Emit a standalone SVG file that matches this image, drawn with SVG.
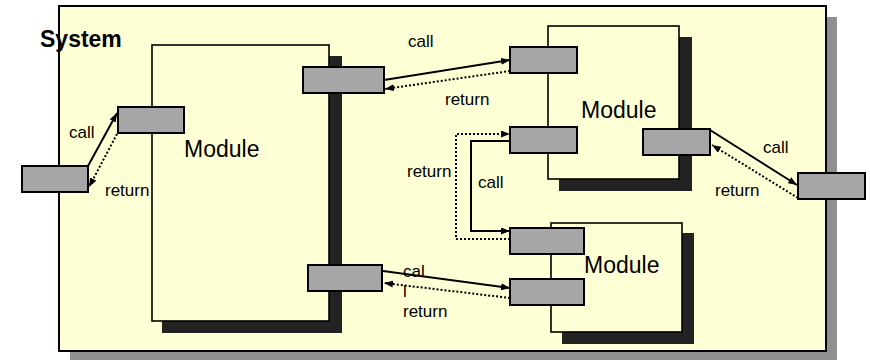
<svg xmlns="http://www.w3.org/2000/svg" width="870" height="360" viewBox="0 0 870 360">
  <defs>
    <marker id="arrow" viewBox="0 0 9 7" refX="9" refY="3.5" markerWidth="9" markerHeight="7" markerUnits="userSpaceOnUse" orient="auto">
      <path d="M0,0 L9,3.5 L0,7 z" fill="#000"/>
    </marker>
    <style>
      .box { fill: #ffffd6; stroke: #000; stroke-width: 1.6; }
      .sys { fill: #ffffd6; stroke: #000; stroke-width: 2; }
      .shadow { fill: #222; }
      .sysshadow { fill: #909090; }
      .port { fill: #a6a6a6; stroke: #000; stroke-width: 2; }
      .call { fill: none; stroke: #000; stroke-width: 2; marker-end: url(#arrow); }
      .ret { fill: none; stroke: #000; stroke-width: 2; stroke-dasharray: 2 2; marker-end: url(#arrow); }
      text { font-family: "Liberation Sans", Arial, sans-serif; fill: #000; }
      .lbl { font-size: 17px; }
      .title { font-size: 23px; }
      .sysname { font-size: 23px; font-weight: bold; }
    </style>
  </defs>

  <!-- enclosing system -->
  <g id="system">
    <rect class="sysshadow" x="70" y="17" width="767" height="345"/>
    <rect class="sys" x="59" y="6" width="767" height="345"/>
    <text class="sysname" x="40" y="47">System</text>
  </g>

  <!-- modules -->
  <g id="module-main">
    <rect class="shadow" x="162" y="56" width="180" height="277"/>
    <rect class="box" x="152" y="45" width="177" height="276"/>
    <text class="title" x="184" y="157">Module</text>
  </g>
  <g id="module-upper">
    <rect class="shadow" x="559" y="37" width="133" height="154"/>
    <rect class="box" x="548" y="26" width="131" height="153"/>
    <text class="title" x="581" y="118">Module</text>
  </g>
  <g id="module-lower">
    <rect class="shadow" x="562" y="233" width="132" height="111"/>
    <rect class="box" x="551" y="223" width="131" height="109"/>
    <text class="title" x="584" y="273">Module</text>
  </g>

  <!-- call / return connectors -->
  <g id="connectors">
    <line class="call" x1="88" y1="166" x2="117" y2="113"/>
    <line class="ret" x1="117" y1="134" x2="89" y2="187"/>
    <line class="call" x1="384" y1="80" x2="510" y2="60"/>
    <line class="ret" x1="510" y1="71" x2="385" y2="89"/>
    <polyline class="call" points="510,141 471,141 471,231 510,231"/>
    <polyline class="ret" points="510,239 456,239 456,134 510,134"/>
    <line class="call" x1="710" y1="130" x2="797" y2="185"/>
    <line class="ret" x1="798" y1="198" x2="712" y2="145"/>
    <line class="call" x1="383" y1="271" x2="510" y2="288"/>
    <line class="ret" x1="510" y1="298" x2="384" y2="283"/>
  </g>

  <!-- ports -->
  <g id="port-ext-left"><rect class="port" x="22" y="166" width="66" height="26"/></g>
  <g id="port-main-left"><rect class="port" x="118" y="107" width="66" height="26"/></g>
  <g id="port-main-top"><rect class="port" x="303" y="67" width="81" height="26"/></g>
  <g id="port-main-bottom"><rect class="port" x="308" y="265" width="74" height="26"/></g>
  <g id="port-upper-top"><rect class="port" x="510" y="47" width="67" height="26"/></g>
  <g id="port-upper-mid"><rect class="port" x="510" y="127" width="67" height="26"/></g>
  <g id="port-upper-right"><rect class="port" x="643" y="129" width="67" height="26"/></g>
  <g id="port-ext-right"><rect class="port" x="798" y="173" width="67" height="26"/></g>
  <g id="port-lower-top"><rect class="port" x="510" y="228" width="74" height="26"/></g>
  <g id="port-lower-bottom"><rect class="port" x="510" y="279" width="74" height="26"/></g>

  <!-- connector labels -->
  <g id="labels">
    <text class="lbl" x="69" y="138">call</text>
    <text class="lbl" x="105" y="196">return</text>
    <text class="lbl" x="408" y="47">call</text>
    <text class="lbl" x="445" y="105">return</text>
    <text class="lbl" x="407" y="177">return</text>
    <text class="lbl" x="478" y="188">call</text>
    <text class="lbl" x="763" y="153">call</text>
    <text class="lbl" x="715" y="196">return</text>
    <text class="lbl" x="403" y="277">cal</text>
    <text class="lbl" x="403" y="297">l</text>
    <text class="lbl" x="403" y="317">return</text>
  </g>
</svg>
